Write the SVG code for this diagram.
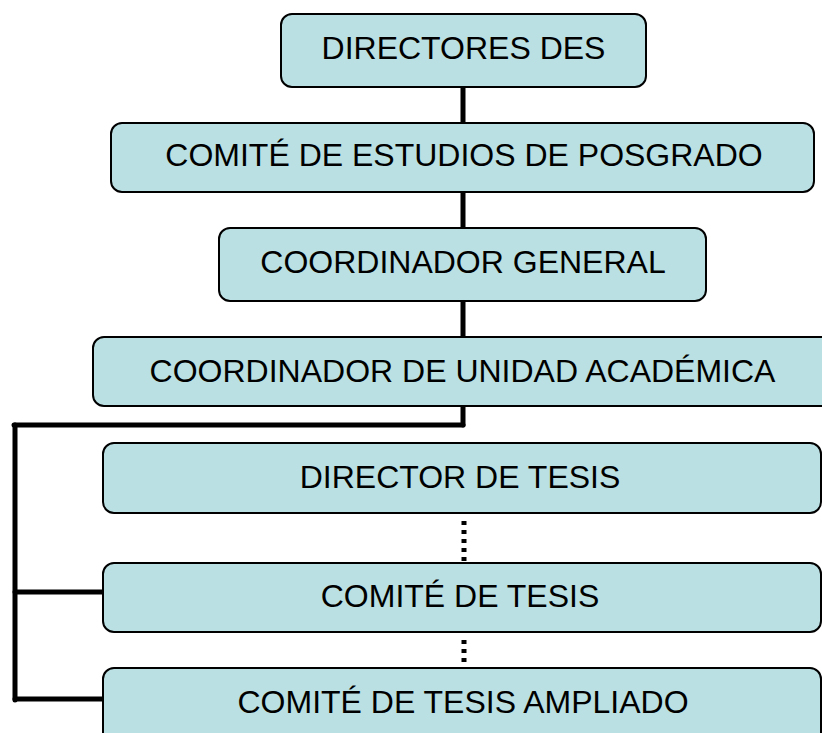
<svg xmlns="http://www.w3.org/2000/svg" width="822" height="733" viewBox="0 0 822 733">
<style>
.box{fill:#bae0e3;stroke:#000;stroke-width:2}
.lbl{font-family:"Liberation Sans",Arial,sans-serif;font-size:32px;fill:#000;text-anchor:middle}
.solid{stroke:#000;stroke-width:5;fill:none;stroke-linecap:round}
.dot{stroke:#000;stroke-width:5;fill:none;stroke-dasharray:4 5}
</style>
<rect width="822" height="733" fill="#fff"/>
<g id="connectors">
<line class="solid" x1="463" y1="87" x2="463" y2="123"/>
<line class="solid" x1="463" y1="192" x2="463" y2="228"/>
<line class="solid" x1="463" y1="301" x2="463" y2="337"/>
<line class="solid" x1="463" y1="406" x2="463" y2="425"/>
<line class="solid" x1="14" y1="425" x2="463" y2="425"/>
<line class="solid" x1="15" y1="425" x2="15" y2="700"/>
<line class="solid" x1="15" y1="592" x2="104" y2="592"/>
<line class="solid" x1="15" y1="699" x2="104" y2="699"/>
<line class="dot" x1="464" y1="521" x2="464" y2="563"/>
<line class="dot" x1="464" y1="640" x2="464" y2="668"/>
</g>
<g id="n1"><rect class="box" x="281" y="14" width="365" height="73" rx="11"/><text class="lbl" x="463.5" y="59">DIRECTORES DES</text></g>
<g id="n2"><rect class="box" x="111" y="123" width="703" height="69" rx="11"/><text class="lbl" x="464" y="166">COMITÉ DE ESTUDIOS DE POSGRADO</text></g>
<g id="n3"><rect class="box" x="219" y="228" width="487" height="73" rx="11"/><text class="lbl" x="463" y="273">COORDINADOR GENERAL</text></g>
<g id="n4"><rect class="box" x="93" y="337" width="740" height="69" rx="11"/><text class="lbl" x="462.5" y="382">COORDINADOR DE UNIDAD ACADÉMICA</text></g>
<g id="n5"><rect class="box" x="103" y="443" width="718" height="70" rx="11"/><text class="lbl" x="460" y="488">DIRECTOR DE TESIS</text></g>
<g id="n6"><rect class="box" x="103" y="563" width="718" height="69" rx="11"/><text class="lbl" x="460" y="607">COMITÉ DE TESIS</text></g>
<g id="n7"><rect class="box" x="103" y="668" width="718" height="80" rx="11"/><text class="lbl" x="463" y="713">COMITÉ DE TESIS AMPLIADO</text></g>
</svg>
